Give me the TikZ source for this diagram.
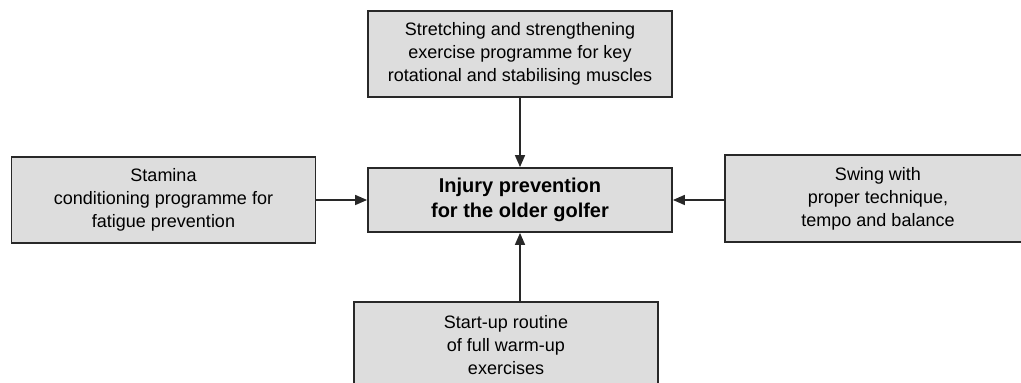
\documentclass[tikz,border=0pt]{standalone}
\usepackage{fontspec}
\setmainfont{Liberation Sans}
\usetikzlibrary{arrows.meta}
\definecolor{boxgray}{RGB}{221,221,221}
\definecolor{edgegray}{RGB}{40,40,40}

\begin{document}
\begin{tikzpicture}[x=0.5pt,y=0.5pt,>={Triangle[length=6pt,width=5pt]},thick,
    factor/.style={draw=edgegray,line width=0.9pt,fill=boxgray,align=center,
      font=\fontsize{9}{11.5}\selectfont,minimum width=152pt,minimum height=43pt,inner sep=0pt},
    aimbox/.style={factor,minimum height=32pt,font=\fontsize{10}{12.5}\selectfont\bfseries}]
  \useasboundingbox (0,0) rectangle (1021,383);
  \node[aimbox] (goal) at (520,183) {Injury prevention\\for the older golfer};
  \node[factor] (stretch) at (520,329) {Stretching and strengthening\\exercise programme for key\\rotational and stabilising muscles};
  \node[factor] (stamina) at (163.5,183) {Stamina\\conditioning programme for\\fatigue prevention};
  \node[factor,minimum width=153pt,minimum height=43.5pt] (swing) at (878,184.5) {Swing with\\proper technique,\\tempo and balance};
  \node[factor] (startup) at (506,38) {Start-up routine\\of full warm-up\\exercises};
  \draw[->,edgegray] (stretch) -- (goal);
  \draw[->,edgegray] (stamina) -- (goal);
  \draw[->,edgegray] (swing.west |- goal.east) -- (goal.east);
  \draw[->,edgegray] (startup.north -| goal.south) -- (goal.south);
\end{tikzpicture}
\end{document}
